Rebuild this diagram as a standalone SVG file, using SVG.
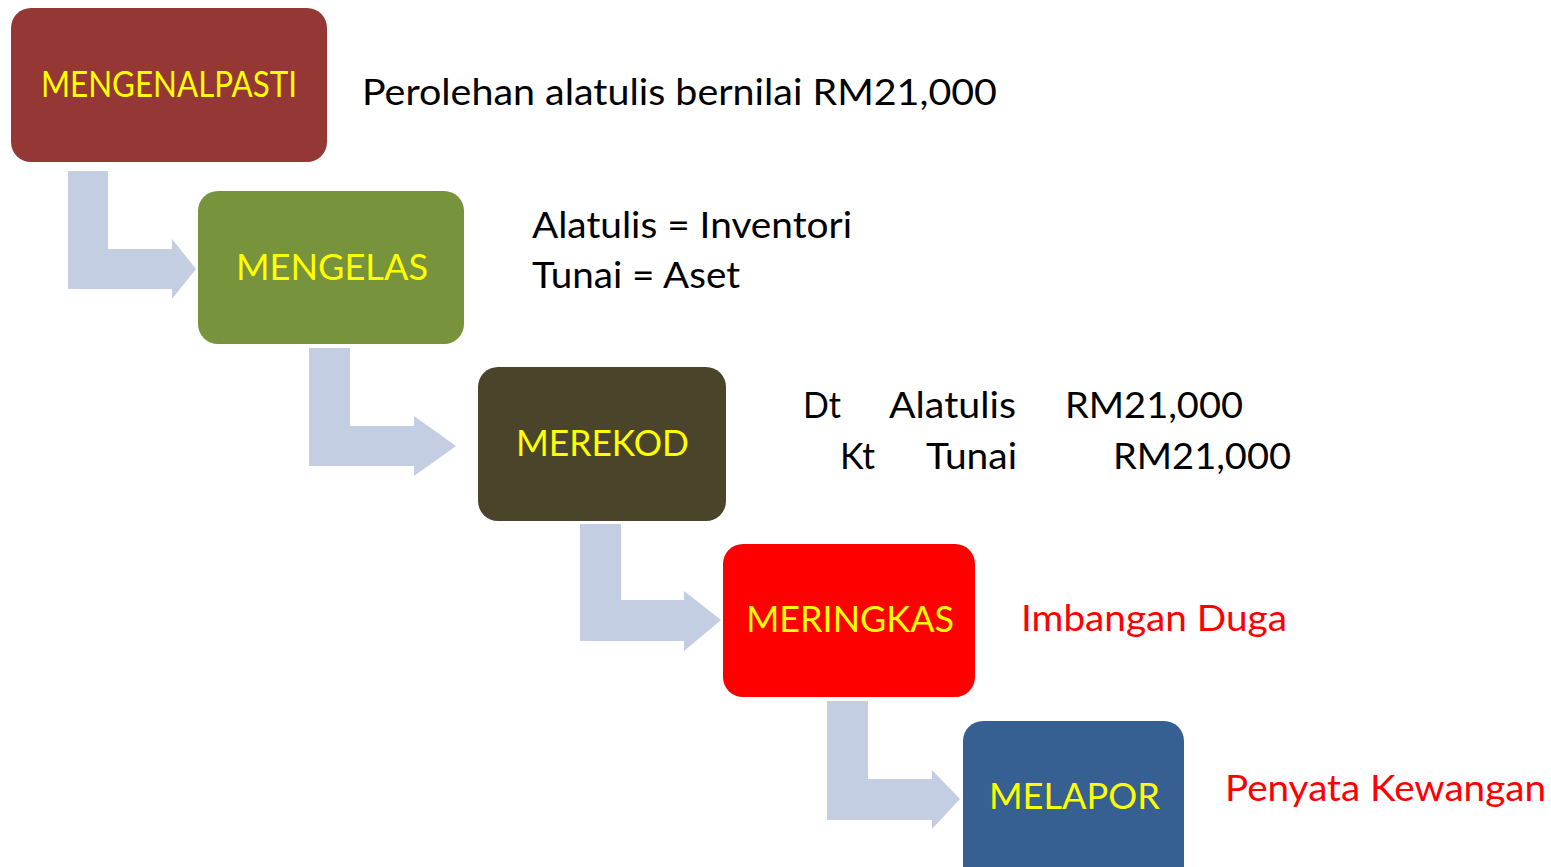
<svg xmlns="http://www.w3.org/2000/svg" width="1551" height="867" viewBox="0 0 1551 867">
<style>
text{font-family:Lato,"Open Sans","Liberation Sans",sans-serif;}
.lbl{fill:#FFFF00;font-size:37px;}
.txt{fill:#000000;font-size:37px;}
.red{fill:#FF0000;font-size:37px;}
.arrow{fill:#C3CEE2;}
</style>
<rect width="1551" height="867" fill="#FFFFFF"/>
<g id="connectors">
<path class="arrow" d="M68,171 H108 V249 H172 V239 L196,269 L172,299 V289 H68 Z"/>
<path class="arrow" d="M309,348 H350 V426 H414 V416 L456,446 L414,476 V466 H309 Z"/>
<path class="arrow" d="M580,524 H621 V600 H684 V591 L721,620 L684,651 V641 H580 Z"/>
<path class="arrow" d="M827,701 H868 V779 H932 V770 L960,799 L932,829 V820 H827 Z"/>
</g>
<g id="node-mengenalpasti">
<rect x="11" y="8" width="316" height="154" rx="20" fill="#953735"/>
<text class="lbl" x="41" y="97" font-size="33" textLength="256" lengthAdjust="spacingAndGlyphs">MENGENALPASTI</text>
</g>
<g id="node-mengelas">
<rect x="198" y="191" width="266" height="153" rx="20" fill="#77933C"/>
<text class="lbl" x="236" y="280" textLength="192" lengthAdjust="spacingAndGlyphs">MENGELAS</text>
</g>
<g id="node-merekod">
<rect x="478" y="367" width="248" height="154" rx="20" fill="#4A452A"/>
<text class="lbl" x="516" y="456" textLength="173" lengthAdjust="spacingAndGlyphs">MEREKOD</text>
</g>
<g id="node-meringkas">
<rect x="723" y="544" width="252" height="153" rx="20" fill="#FF0000"/>
<text class="lbl" x="746" y="632" textLength="208" lengthAdjust="spacingAndGlyphs">MERINGKAS</text>
</g>
<g id="node-melapor">
<rect x="963" y="721" width="221" height="170" rx="20" fill="#376092"/>
<text class="lbl" x="989" y="809" textLength="171" lengthAdjust="spacingAndGlyphs">MELAPOR</text>
</g>
<g id="notes">
<text class="txt" x="362" y="105" textLength="635" lengthAdjust="spacingAndGlyphs">Perolehan alatulis bernilai RM21,000</text>
<text class="txt" x="532" y="238" textLength="320" lengthAdjust="spacingAndGlyphs">Alatulis = Inventori</text>
<text class="txt" x="532" y="288" textLength="208" lengthAdjust="spacingAndGlyphs">Tunai = Aset</text>
<text class="txt" x="803" y="418" textLength="38" lengthAdjust="spacingAndGlyphs">Dt</text>
<text class="txt" x="889" y="418" textLength="127" lengthAdjust="spacingAndGlyphs">Alatulis</text>
<text class="txt" x="1065" y="418" textLength="178" lengthAdjust="spacingAndGlyphs">RM21,000</text>
<text class="txt" x="840" y="469" textLength="35" lengthAdjust="spacingAndGlyphs">Kt</text>
<text class="txt" x="926" y="469" textLength="91" lengthAdjust="spacingAndGlyphs">Tunai</text>
<text class="txt" x="1113" y="469" textLength="178" lengthAdjust="spacingAndGlyphs">RM21,000</text>
<text class="red" x="1021" y="631" textLength="266" lengthAdjust="spacingAndGlyphs">Imbangan Duga</text>
<text class="red" x="1225" y="801" textLength="321" lengthAdjust="spacingAndGlyphs">Penyata Kewangan</text>
</g>
</svg>
